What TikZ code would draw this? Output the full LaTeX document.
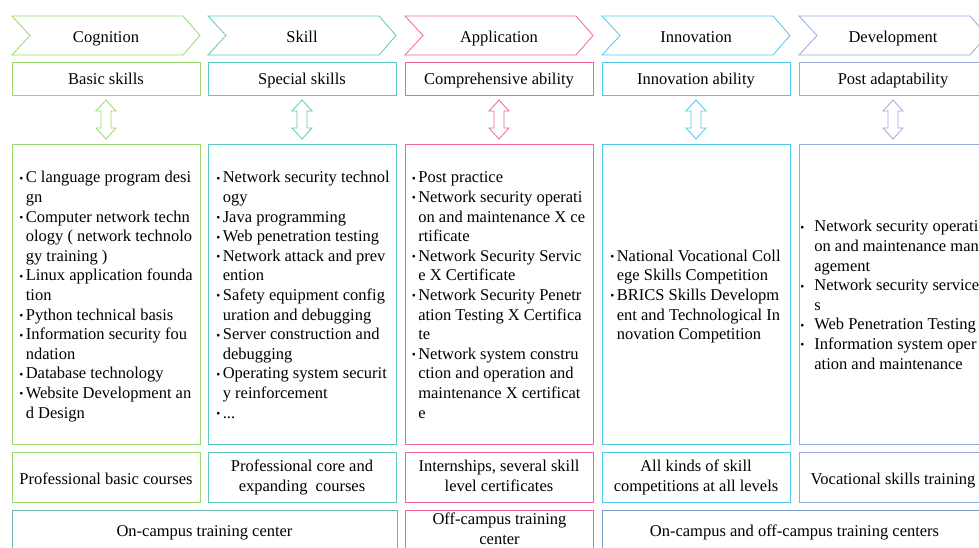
\documentclass[tikz,border=0pt]{standalone}
\usepackage{fontspec}
\setmainfont{Liberation Serif}
\usetikzlibrary{positioning}

\definecolor{cgreen}{HTML}{98D86A}
\definecolor{cteal}{HTML}{5CC8BE}
\definecolor{cpink}{HTML}{F0649E}
\definecolor{ccyan}{HTML}{50C8EC}
\definecolor{clav}{HTML}{9AA8DA}
\definecolor{cteal2}{HTML}{6DB6AE}
\definecolor{csteel}{HTML}{7C9CC4}

\newcommand{\bodyfont}{\fontsize{16.5}{19.6}\selectfont}
\newcommand{\bul}{\raisebox{0.5pt}{\fontsize{11.5}{10}\selectfont\textbullet}}
% top and bottom struts keep every label on the same line height
\newcommand{\topstrut}{\rule[-4pt]{0pt}{20.5pt}}
\newcommand{\botstrut}{\rule[-4pt]{0pt}{4pt}}

\begin{document}
\begin{tikzpicture}[x=1pt,y=-1pt, every node/.style={font=\bodyfont, execute at begin node=\topstrut, execute at end node=\botstrut},
    box/.style={rectangle, line width=0.8pt, minimum width=188pt, minimum height=33pt, align=center, inner sep=1pt},
    lst/.style={inner sep=0pt, yshift=-2.5pt}]
    \useasboundingbox (0,0) rectangle (979,547);
    % stages, abilities, arrows and list frames per column
    \foreach \i/\L/\col/\stage/\abil in {1/12/cgreen/Cognition/Basic skills,2/208/cteal/Skill/Special skills,3/405/cpink/Application/Comprehensive ability,4/602/ccyan/Innovation/Innovation ability,5/799/clav/Development/Post adaptability}{
        \pgfmathsetmacro{\cx}{\L+94}
        \draw[\col, line width=0.8pt] (\L,16) -- ++(171,0) -- ++(17,19.5) -- ++(-17,19.5) -- ++(-171,0) -- ++(18,-19.5) -- cycle;
        \node (stage\i) at (\cx,36) {\stage};
        \node[box, draw=\col] (abil\i) at (\cx,78.5) {\abil};
        \draw[\col, line width=0.8pt] (\cx,100) -- ++(10,11) -- ++(-5,0) -- ++(0,17) -- ++(5,0) -- ++(-10,11) -- ++(-10,-11) -- ++(5,0) -- ++(0,-17) -- ++(-5,0) -- cycle;
        \node[box, draw=\col, minimum height=300pt] (part\i) at (\cx,294) {};
    }
    \foreach \i/\col/\txt in {1/cgreen/{Professional basic courses},2/cteal/{Professional core and\\expanding\ \ courses},3/cpink/{Internships, several skill\\level certificates},4/ccyan/{All kinds of skill\\competitions at all levels},5/clav/{Vocational skills training}}{
        \node[box, draw=\col, minimum height=50pt, below=8pt of part\i] (way\i) {\txt};
    }
    % course lists
    \node[lst, right=7.5pt of part1.west] (list1) {\begin{tabular}{@{}l@{\hspace{2.5pt}}l@{}}
        \bul & C language program desi\\
            & gn\\
        \bul & Computer network techn\\
            & ology ( network technolo\\
            & gy training )\\
        \bul & Linux application founda\\
            & tion\\
        \bul & Python technical basis\\
        \bul & Information security fou\\
            & ndation\\
        \bul & Database technology\\
        \bul & Website Development an\\
            & d Design
    \end{tabular}};
    \node[lst, right=8.5pt of part2.west] (list2) {\begin{tabular}{@{}l@{\hspace{2.5pt}}l@{}}
        \bul & Network security technol\\
            & ogy\\
        \bul & Java programming\\
        \bul & Web penetration testing\\
        \bul & Network attack and prev\\
            & ention\\
        \bul & Safety equipment config\\
            & uration and debugging\\
        \bul & Server construction and\\
            & debugging\\
        \bul & Operating system securit\\
            & y reinforcement\\
        \bul & ...
    \end{tabular}};
    \node[lst, right=7pt of part3.west] (list3) {\begin{tabular}{@{}l@{\hspace{2.5pt}}l@{}}
        \bul & Post practice\\
        \bul & Network security operati\\
            & on and maintenance X ce\\
            & rtificate\\
        \bul & Network Security Servic\\
            & e X Certificate\\
        \bul & Network Security Penetr\\
            & ation Testing X Certifica\\
            & te\\
        \bul & Network system constru\\
            & ction and operation and\\
            & maintenance X certificat\\
            & e
    \end{tabular}};
    \node[lst, right=8.5pt of part4.west] (list4) {\begin{tabular}{@{}l@{\hspace{2.5pt}}l@{}}
        \bul & National Vocational Coll\\
            & ege Skills Competition\\
        \bul & BRICS Skills Developm\\
            & ent and Technological In\\
            & novation Competition
    \end{tabular}};
    \node[lst, right=1.5pt of part5.west] (list5) {\begin{tabular}{@{}l@{\hspace{10pt}}l@{}}
        \bul & Network security operati\\
            & on and maintenance man\\
            & agement\\
        \bul & Network security service\\
            & s\\
        \bul & Web Penetration Testing\\
        \bul & Information system oper\\
            & ation and maintenance
    \end{tabular}};
    % training bases
    \node[box, draw=cteal2, minimum width=385pt, minimum height=41pt] (base1) at (204.5,530.5) {On-campus training center};
    \node[box, draw=cpink, minimum height=41pt] (base2) at (499.5,530.5) {Off-campus training\\center};
    \node[box, draw=csteel, minimum width=385pt, minimum height=41pt] (base3) at (794.5,530.5) {On-campus and off-campus training centers};
\end{tikzpicture}
\end{document}
